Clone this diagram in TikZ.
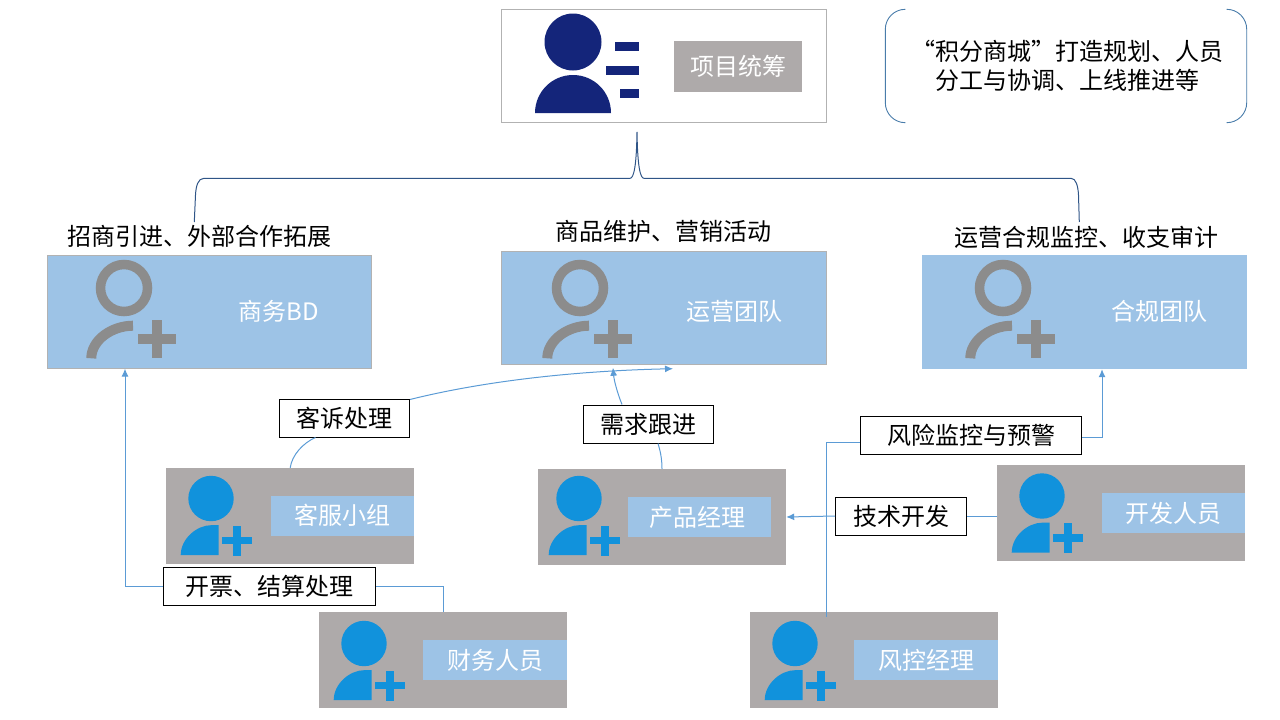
\documentclass[tikz,border=0pt]{standalone}
\usepackage{fontspec}
\setmainfont{Noto Sans CJK SC}
\usetikzlibrary{arrows.meta,positioning,calc}
\definecolor{teamblue}{HTML}{9DC3E6}
\definecolor{staffgrey}{HTML}{AEAAAA}
\definecolor{flowblue}{HTML}{5B9BD5}
\definecolor{leadnavy}{HTML}{14257A}
\definecolor{addblue}{HTML}{1192DC}
\definecolor{addgrey}{HTML}{8C8C8C}
\definecolor{bracenavy}{HTML}{2F5587}
\newcommand{\fsize}{\fontsize{24}{29}\selectfont}
\tikzset{
  leadbox/.style={draw=black!30, fill=white, minimum width=325pt, minimum height=113pt, inner sep=0pt},
  leadname/.style={fill=staffgrey, text=white, minimum width=128pt, minimum height=51pt, inner sep=0pt, font=\fsize},
  notebox/.style={text width=361pt, minimum height=113pt, inner sep=0pt, align=left, font=\fsize},
  teambox/.style={fill=teamblue, minimum width=325pt, minimum height=114pt, inner sep=0pt},
  teamname/.style={text=white, inner sep=0pt, font=\fsize},
  caption/.style={inner sep=0pt, font=\fsize},
  staffbox/.style={fill=staffgrey, minimum width=248pt, minimum height=96pt, inner sep=0pt},
  staffname/.style={fill=teamblue, text=white, minimum width=143.5pt, minimum height=40pt, inner sep=0pt, font=\fsize},
  dutybox/.style={draw=black, fill=white, line width=1pt, minimum height=38pt, inner sep=0pt, font=\fsize},
  flow/.style={draw=flowblue, line width=1pt},
  flowtip/.style={flow, -{Latex[length=8pt,width=7pt]}},
  bracket/.style={draw=flowblue!80!black, line width=0.9pt, rounded corners=20pt},
  brace/.style={draw=bracenavy, line width=1pt},
  pics/greyadd/.style={code={
    \draw[addgrey, line width=9.5pt] (0,0) circle (23.5pt);
    \draw[addgrey, line width=10pt] (-32.7,70.3) .. controls (-32.7,52) and (-12,37.7) .. (9,37.7);
    \fill[addgrey] (28,32.3) rectangle (38,70.3);
    \fill[addgrey] (14,46.3) rectangle (52,56.3);
  }},
  pics/blueadd/.style={code={
    \fill[addblue] (0,0) circle (22.7pt);
    \fill[addblue] (-30.3,56.7) .. controls (-30.3,40) and (-14,26.7) .. (0,26.7) -- (7.7,26.7) -- (7.7,56.7) -- cycle;
    \fill[addblue] (22.2,27) rectangle (29.8,57);
    \fill[addblue] (11,38.2) rectangle (41,45.8);
  }}
}
\begin{document}
\begin{tikzpicture}[x=1pt,y=-1pt]
\useasboundingbox (0,0) rectangle (1280,720);
% top row
\node[leadbox] (lead) at (664,66) {};
\node[leadname] (leadlabel) at (738,66.5) {项目统筹};
\fill[leadnavy] (573,42) circle (28.5pt);
\fill[leadnavy] (535,113) arc[start angle=180, end angle=0, radius=38pt] -- cycle;
\fill[leadnavy] (615,42) rectangle (639,51);
\fill[leadnavy] (606,66) rectangle (639,75);
\fill[leadnavy] (620,89) rectangle (639,98);
\node[notebox] (note) at (1066,66) {\hspace*{26pt}“积分商城”打造规划、人员\\\hspace*{50pt}分工与协调、上线推进等};
\draw[bracket] ([xshift=20pt]note.north west) -- (note.north west) -- (note.south west) -- ([xshift=20pt]note.south west);
\draw[bracket] ([xshift=-20pt]note.north east) -- (note.north east) -- (note.south east) -- ([xshift=-20pt]note.south east);
% teams
\node[teambox, draw=black!30, minimum width=324pt, minimum height=113pt] (bd) at (209.5,312) {};
\node[teambox, draw=black!30, minimum width=325pt, minimum height=113pt] (ops) at (664,308) {};
\node[teambox] (audit) at (1084.5,312) {};
\node[teamname] (bdname) at (279,311) {商务BD};
\node[teamname] (opsname) at (734,311) {运营团队};
\node[teamname] (auditname) at (1159,311) {合规团队};
\node[caption] (bdcap) at (199,236) {招商引进、外部合作拓展};
\node[caption] (opscap) at (663,231) {商品维护、营销活动};
\node[caption] (auditcap) at (1086,237) {运营合规监控、收支审计};
\pic at (124,288) {greyadd};
\pic at (580,288) {greyadd};
\pic at (1003,288) {greyadd};
% brace over the teams
\coordinate (bracel) at (194.3,222);
\coordinate (bracer) at (1079.3,222);
\coordinate (bracetip) at (637,132);
\draw[brace] (bracel) -- (195.5,195) .. controls (196,186) and (198,178.3) .. (204,178.3) -- (630,178.3)
  .. controls (634,178.3) and (636.5,165) .. (bracetip) .. controls (637.5,165) and (640,178.3) .. (644,178.3)
  -- (1071,178.3) .. controls (1076,178.3) and (1078,186) .. (1078.5,195) -- (bracer);
% staff
\node[staffbox] (service) at (290.2,516) {};
\node[staffname] (servicename) at (342.5,515.5) {客服小组};
\node[staffbox] (finance) at (443,660) {};
\node[staffname] (financename) at (495.2,660) {财务人员};
\node[staffbox] (product) at (662,517) {};
\node[staffname, execute at begin node={\hspace*{-5pt}}] (productname) at (699.7,517) {产品经理};
\node[staffbox] (dev) at (1121.2,513) {};
\node[staffname] (devname) at (1173.5,513) {开发人员};
\node[staffbox] (risk) at (874,660) {};
\node[staffname] (riskname) at (926.2,660) {风控经理};
\pic at (211,498.5) {blueadd};
\pic at (364,643.5) {blueadd};
\pic at (579,498.5) {blueadd};
\pic at (1042,496) {blueadd};
\pic at (795,643.5) {blueadd};
% duties
\node[dutybox, minimum width=130pt] (complaint) at (344.5,418) {客诉处理};
\node[dutybox, minimum width=212pt] (billing) at (269.5,586) {开票、结算处理};
\node[dutybox, minimum width=130pt] (demand) at (648.5,424) {需求跟进};
\node[dutybox, minimum width=221pt] (alert) at (971,435) {风险监控与预警};
\node[dutybox, minimum width=131pt] (coding) at (901,516) {技术开发};
% connectors
\draw[flow] (finance.north) |- (billing.east);
\draw[flowtip] (billing.west) -| ([xshift=-84.5pt]bd.south);
\draw[flow] (service.north) .. controls (292,455) and (303,443) .. ([xshift=-29pt]complaint.south);
\draw[flowtip] ([yshift=-1pt]complaint.north east) .. controls (480,382) and (570,371) .. ([shift={(9,4)}]ops.south);
\draw[flow] (product.north) .. controls (662,458) and (660,450) .. ([xshift=9.5pt]demand.south);
\draw[flowtip] ([xshift=-26.5pt]demand.north) .. controls (617,392) and (614,380) .. ([shift={(-51,3)}]ops.south);
\draw[flow] ([shift={(-48,5)}]risk.north) |- ([yshift=-7pt]alert.west);
\draw[flowtip] ([yshift=-2pt]alert.east) -| ([xshift=17.5pt]audit.south);
\draw[flow] ([yshift=-3pt]dev.west) -- (coding.east);
\draw[flowtip] (coding.west) -- (product.east);
\end{tikzpicture}
\end{document}
